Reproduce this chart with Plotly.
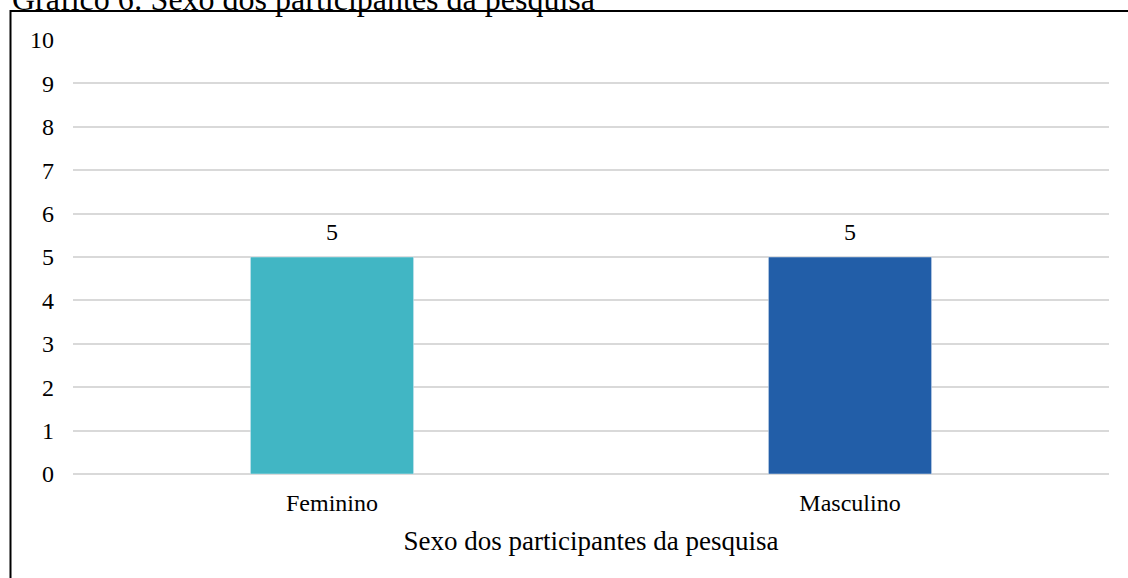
import plotly.graph_objects as go

categories = ["Feminino", "Masculino"]
values = [5, 5]
colors = ["#41B6C4", "#225EA8"]
title_text = "Gráfico 6: Sexo dos participantes da pesquisa"
x_title = "Sexo dos participantes da pesquisa"

W, H = 1128, 578
L, R, T, B = 73, 19, 40, 104
pw, ph = W - L - R, H - T - B

def px(x):
    return (x - L) / pw

def py(y):
    return (H - B - y) / ph

fig = go.Figure(go.Bar(
    x=categories, y=values, marker_color=colors,
))

fig.update_layout(
    width=W, height=H,
    margin=dict(l=L, r=R, t=T, b=B),
    plot_bgcolor="white", paper_bgcolor="white",
    font=dict(family="Liberation Serif, Times New Roman, serif", size=24, color="black"),
    bargap=0.685,
    showlegend=False,
    xaxis=dict(
        title=dict(text=x_title, font=dict(size=27), standoff=16),
        showgrid=False, showline=False, ticks="",
        tickfont=dict(size=24), ticklabelstandoff=12,
    ),
    yaxis=dict(
        range=[0, 10], dtick=1, showgrid=True, gridcolor="#D9D9D9", gridwidth=1.5,
        zeroline=True, zerolinecolor="#D9D9D9", zerolinewidth=1.5,
        showline=False, ticks="", ticklabelstandoff=18,
        tickfont=dict(size=24),
    ),
    shapes=[dict(
        type="rect", xref="paper", yref="paper",
        x0=px(10.5), x1=px(1140), y0=py(600), y1=py(11),
        line=dict(color="black", width=2), fillcolor="rgba(0,0,0,0)",
        layer="above",
    )],
)

for c, v in zip(categories, values):
    fig.add_annotation(x=c, y=v, text=str(v), showarrow=False,
                       yanchor="middle", yshift=25, font=dict(size=24))

fig.add_annotation(
    text=title_text, xref="paper", yref="paper",
    x=px(10), y=py(-1), xanchor="left", yanchor="middle",
    showarrow=False, font=dict(size=32),
)

fig.write_html("out.html", config={"displayModeBar": False},
               post_script="document.body.style.margin='0';")
